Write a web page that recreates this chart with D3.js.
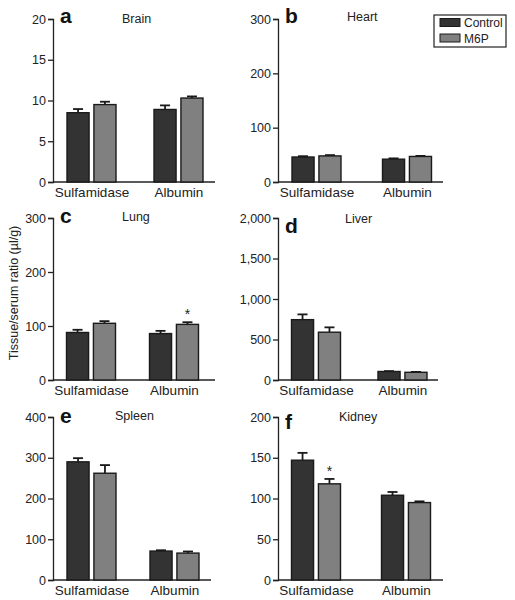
<!DOCTYPE html>
<html>
<head>
<meta charset="utf-8">
<script src="https://cdn.jsdelivr.net/npm/d3@7"></script>
<style>
  body { margin: 0; background: #fff; }
  svg { display: block; font-family: "Liberation Sans", Arial, sans-serif; }
</style>
</head>
<body>
<svg id="chart" width="515" height="600"></svg>
<script>
// ---- Data ----
const categories = ["Sulfamidase", "Albumin"];
const seriesNames = ["Control", "M6P"];
const panelLetters = ["a", "b", "c", "d", "e", "f"];
const panelTitles = ["Brain", "Heart", "Lung", "Liver", "Spleen", "Kidney"];
const yMax = [20, 300, 300, 2000, 400, 200];
const yTicks = [
  [0, 5, 10, 15, 20],
  [0, 100, 200, 300],
  [0, 100, 200, 300],
  [0, 500, 1000, 1500, 2000],
  [0, 100, 200, 300, 400],
  [0, 50, 100, 150, 200]
];
// values per panel: [Sulfamidase, Albumin]
const controlValues = [[8.5, 8.9], [46, 42], [88, 86], [745, 105], [290, 71], [147, 104]];
const controlErrors = [[0.45, 0.5], [1.5, 1.5], [5, 5], [65, 5], [9, 2], [9, 4]];
const m6pValues = [[9.5, 10.3], [48, 47], [105, 103], [590, 95], [262, 66], [118, 95]];
const m6pErrors = [[0.35, 0.2], [1.5, 1], [4, 4], [60, 5], [20, 4], [6, 1.5]];
// significance stars: [panel index, category]
const stars = [[2, "Albumin"], [5, "Sulfamidase"]];
const yAxisTitle = "Tissue/serum ratio (µl/g)";

// ---- Layout ----
const colors = { Control: "#333333", M6P: "#808080" };
const stroke = "#1a1a1a";
const colX = [53, 278];
const axisEnd = [215, 443, 215, 438, 211, 443];
const groupPos = [[38.5, 125.5], [38.5, 129], [38, 121], [38, 124.5], [38.5, 121.5], [38, 128]];
const rowTop = [19, 218, 417];
const rowBottom = [182, 380, 580];
const letterDy = [4, 4, 5, 15, 6, 12];
const titleDx = [69, 69, 69, 67, 62, 61];
const titleDy = [4, 2, 3, 5, 3, 4];

const svg = d3.select("#chart");
const fmt = d3.format(",");
const FONT = "Liberation Sans, Arial, sans-serif";

panelTitles.forEach((title, i) => {
  const col = i % 2, row = Math.floor(i / 2);
  const x0 = colX[col], x1 = axisEnd[i];
  const yTop = rowTop[row], yBot = rowBottom[row];
  const g = svg.append("g");

  const y = d3.scaleLinear().domain([0, yMax[i]]).range([yBot, yTop]);
  const x = d3.scalePoint().domain(categories).range([x0 + groupPos[i][0], x0 + groupPos[i][1]]);
  const xs = d3.scaleBand().domain(seriesNames).range([-24.5, 24.5]).paddingInner(0.18);

  // y axis
  const yAxis = d3.axisLeft(y).tickValues(yTicks[i]).tickFormat(fmt).tickSizeOuter(0).tickSize(5).tickPadding(2);
  const ya = g.append("g").attr("transform", `translate(${x0},0)`).call(yAxis);
  ya.select(".domain").attr("stroke", "#222").attr("stroke-width", 1.3);
  ya.selectAll(".tick line").attr("stroke", "#222").attr("stroke-width", 1.3);
  ya.selectAll(".tick text").attr("font-size", 12.5).attr("fill", "#222").attr("font-family", FONT);

  // x axis
  const xAxis = d3.axisBottom(x).tickSize(0).tickPadding(5);
  const xa = g.append("g").attr("transform", `translate(0,${yBot})`).call(xAxis);
  xa.select(".domain").attr("d", `M${x0},0H${x1}`).attr("stroke", "#222").attr("stroke-width", 1.3);
  xa.selectAll(".tick text").attr("font-size", 13.5).attr("fill", "#222").attr("font-family", FONT);

  // bars
  const rows = [];
  categories.forEach((c, ci) => {
    rows.push({ cat: c, s: "Control", v: controlValues[i][ci], e: controlErrors[i][ci] });
    rows.push({ cat: c, s: "M6P", v: m6pValues[i][ci], e: m6pErrors[i][ci] });
  });
  const bw = xs.bandwidth();
  rows.forEach(d => {
    const cx = x(d.cat) + xs(d.s) + bw / 2;
    g.append("line").attr("x1", cx).attr("x2", cx).attr("y1", y(d.v)).attr("y2", y(d.v + d.e))
      .attr("stroke", stroke).attr("stroke-width", 1.8);
    g.append("line").attr("x1", cx - 5).attr("x2", cx + 5).attr("y1", y(d.v + d.e)).attr("y2", y(d.v + d.e))
      .attr("stroke", stroke).attr("stroke-width", 1.8);
  });
  g.selectAll("rect.bar").data(rows).join("rect")
    .attr("class", "bar")
    .attr("x", d => x(d.cat) + xs(d.s))
    .attr("width", bw)
    .attr("y", d => y(d.v))
    .attr("height", d => yBot - y(d.v))
    .attr("fill", d => colors[d.s])
    .attr("stroke", stroke).attr("stroke-width", 1.4);

  // stars
  stars.filter(s => s[0] === i).forEach(s => {
    const ci = categories.indexOf(s[1]);
    const cx = x(s[1]) + xs("M6P") + bw / 2;
    const top = y(m6pValues[i][ci] + m6pErrors[i][ci]);
    g.append("text").attr("x", cx).attr("y", top - 3).attr("text-anchor", "middle")
      .attr("font-size", 14).attr("fill", "#222").text("*");
  });

  // letter & title
  g.append("text").attr("x", x0 + 7).attr("y", yTop + letterDy[i])
    .attr("font-size", 21).attr("font-weight", "bold").attr("fill", "#111")
    .text(panelLetters[i]);
  g.append("text").attr("x", x0 + titleDx[i]).attr("y", yTop + titleDy[i])
    .attr("font-size", 12.5).attr("fill", "#222").text(title);
});

// legend
const lg = svg.append("g").attr("transform", "translate(434,15)");
lg.append("rect").attr("width", 72).attr("height", 32).attr("fill", "#fff").attr("stroke", "#222").attr("stroke-width", 1.2);
seriesNames.forEach((s, k) => {
  lg.append("rect").attr("x", 6).attr("y", 3.5 + k * 15.5).attr("width", 20).attr("height", 8)
    .attr("fill", colors[s]).attr("stroke", stroke).attr("stroke-width", 1);
  lg.append("text").attr("x", 30).attr("y", 12 + k * 15.5).attr("font-size", 12).attr("fill", "#222").text(s);
});

// y axis title
svg.append("text").attr("transform", "translate(18,293) rotate(-90)")
  .attr("text-anchor", "middle").attr("font-size", 12.5).attr("fill", "#222").text(yAxisTitle);
</script>
</body>
</html>
